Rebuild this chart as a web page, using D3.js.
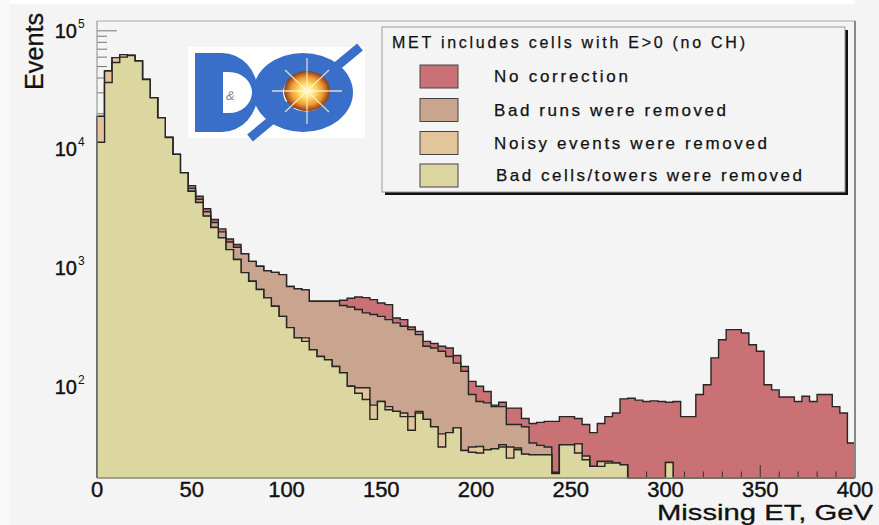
<!DOCTYPE html>
<html><head><meta charset="utf-8">
<script src="https://cdn.jsdelivr.net/npm/d3@7"></script>
<style>html,body{margin:0;padding:0;background:#f4f4f4;} svg{display:block;}</style>
</head><body>
<svg id="chart" width="879" height="525"></svg>
<script>
// ---------- data ----------
const xMin = 0, xMax = 400, binWidth = 4;
const binLowEdges = d3.range(xMin, xMax, binWidth);   // 100 bins of 4 GeV
const xTickLabels = [0, 50, 100, 150, 200, 250, 300, 350, 400];
const yTickExponents = [2, 3, 4, 5];

const seriesNames = [
  "No correction",
  "Bad runs were removed",
  "Noisy events were removed",
  "Bad cells/towers were removed"
];
const legendHeader = "MET includes cells with E>0 (no CH)";

const noCorrection = [
  19000,45800,59400,63000,62000,55600,38900,27300,18500,12600,
  9080,6360,4960,4030,3160,2570,2140,1760,1580,1320,
  1140,1035,950,920,880,700,670,655,525,525,
  525,525,535,556,571,564,542,508,492,380,
  368,319,293,241,231,219,212,183,148,111,
  101,91,70,74,66,66,54,49,50,51,
  51,56,56,54,48,41,49,56,60,79,
  80,77,75,76,75,74,75,56,56,86,
  104,175,249,303,303,284,226,199,104,94,
  82,82,75,83,75,86,86,68,60,33.5
];
const badRunsRemoved = [
  19000,45800,59400,63000,62000,55600,38900,27300,18500,12600,
  9080,6360,4700,3800,2980,2420,2020,1660,1500,1320,
  1140,1035,950,920,880,700,670,655,525,525,
  525,525,483,470,447,419,406,392,368,345,
  323,303,275,219,212,199,180,158,135,86,
  75,73,68,68,48,48,46,33.5,32,31,
  19,32.4,32.4,33,26,21.3,23.4,23.4,22.7,22,
  0,0,0,0,0,0,0,0,0,0,
  0,0,0,0,0,0,0,0,0,0,
  0,0,0,0,0,0,0,0,0,0
];
const noisyRemoved = [
  19000,45800,59400,63000,62000,55600,38900,27300,18500,12600,
  9080,6360,4440,3570,2740,2200,1800,1430,1180,916,
  774,659,561,477,392,315,258,258,205,180,
  169,148,131,101,98,98,70,75,68,62,
  60,56,62,53,46,40,41,45,29,31,
  31.3,29.4,30,32.4,31,30.4,27,26.7,26.7,26.7,
  18.5,32.4,32.4,33,26,21.3,23.4,23.4,22.7,22,
  0,0,0,0,0,23,0,0,0,0,
  0,0,0,0,0,0,0,0,0,0,
  0,0,0,0,0,0,0,0,0,0
];
const badCellsRemoved = [
  11500,36700,54000,60000,62000,55600,38900,27300,18500,12600,
  9080,6360,4440,3570,2740,2200,1800,1430,1180,916,
  774,659,561,477,392,315,258,241,205,180,
  169,148,131,101,88,78,53,75,64,62,
  56,43,60,53,46,31,41,45,29,28,
  27.6,29.4,30,31,25,29.4,27,26.7,26.7,26.7,
  18.5,32.4,32.4,27.6,24.2,21.3,21.3,22.7,22.7,22,
  0,0,0,0,0,23,0,0,0,0,
  0,0,0,0,0,0,0,0,0,0,
  0,0,0,0,0,0,0,0,0,0
];
const seriesColors = ["#c97174", "#c9a48e", "#e2c59a", "#dcd7a0"];

// ---------- layout ----------
const svg = d3.select("#chart");
const plotL = 97, plotR = 855, plotT = 21, plotB = 478;
const x = d3.scaleLinear().domain([xMin, xMax]).range([plotL, plotR]);
const y = d3.scaleLog().domain([17, 121000]).range([plotB, plotT]).clamp(true);
const FONT = "'Liberation Sans', Arial, Helvetica, sans-serif";

// background strips
svg.append("rect").attr("x",0).attr("y",0).attr("width",879).attr("height",525).attr("fill","#f4f4f4");
svg.append("rect").attr("x",0).attr("y",0).attr("width",10).attr("height",525).attr("fill","#f9f9f9");
svg.append("rect").attr("x",10).attr("y",0).attr("width",845).attr("height",4).attr("fill","#ffffff");

function stepPoints(vals) {
  const pts = [[x(xMin), plotB]];
  vals.forEach((v, i) => {
    const yy = v > 0 ? y(v) : plotB;
    pts.push([x(binLowEdges[i]), yy], [x(binLowEdges[i] + binWidth), yy]);
  });
  pts.push([x(xMax), plotB]);
  return pts;
}
const line = d3.line();
function drawHist(vals, color) {
  const pts = stepPoints(vals);
  svg.append("path").attr("d", line(pts) + "Z").attr("fill", color).attr("stroke", "none");
  svg.append("path").attr("d", line(pts)).attr("fill", "none")
    .attr("stroke", "#262626").attr("stroke-width", 1.4).attr("stroke-linejoin", "miter");
}

// red first (with axes), then the others drawn "same"
drawHist(noCorrection, seriesColors[0]);

// axis ticks (drawn after the first histogram)
const tickG = svg.append("g").attr("stroke", "#333").attr("stroke-width", 1);
d3.range(xMin, xMax + 1, 10).forEach(v => {
  const major = v % 50 === 0;
  tickG.append("line").attr("x1", x(v)).attr("x2", x(v))
    .attr("y1", plotB).attr("y2", plotB - (major ? 13 : 6.5));
});
const yMinorVals = [];
[1, 2, 3, 4].forEach(e => { for (let k = 1; k <= 9; k++) yMinorVals.push(k * Math.pow(10, e)); });
yMinorVals.push(100000);
yMinorVals.filter(v => v >= 17 && v <= 121000).forEach(v => {
  const major = Math.abs(Math.log10(v) - Math.round(Math.log10(v))) < 1e-9;
  tickG.append("line").attr("x1", plotL).attr("x2", plotL + (major ? 20 : 10))
    .attr("y1", y(v)).attr("y2", y(v)).attr("stroke", "#777");
});

drawHist(badRunsRemoved, seriesColors[1]);
drawHist(noisyRemoved, seriesColors[2]);
drawHist(badCellsRemoved, seriesColors[3]);

// frame
svg.append("line").attr("x1", plotL).attr("x2", plotR + 1).attr("y1", plotT).attr("y2", plotT).attr("stroke", "#aaa").attr("stroke-width", 1.2);
svg.append("line").attr("x1", plotR).attr("x2", plotR).attr("y1", plotT).attr("y2", plotB).attr("stroke", "#888").attr("stroke-width", 2);
svg.append("line").attr("x1", plotL).attr("x2", plotL).attr("y1", plotT).attr("y2", plotB).attr("stroke", "#999").attr("stroke-width", 1.2);
svg.append("line").attr("x1", plotL).attr("x2", plotR).attr("y1", plotB).attr("y2", plotB).attr("stroke", "#8a8a78").attr("stroke-width", 1.5);

// x tick labels
xTickLabels.forEach(v => {
  svg.append("text").attr("x", x(v)).attr("y", 496.5).attr("text-anchor", "middle")
    .attr("font-family", FONT).attr("font-size", 22).attr("fill", "#111")
    .attr("stroke", "#111").attr("stroke-width", 0.4).text(v);
});
svg.append("text").attr("x", 873).attr("y", 520.3).attr("text-anchor", "end")
  .attr("font-family", FONT).attr("font-size", 21.5).attr("fill", "#111")
  .attr("stroke", "#111").attr("stroke-width", 0.3)
  .attr("textLength", 216).attr("lengthAdjust", "spacingAndGlyphs").text("Missing ET, GeV");

// y tick labels
yTickExponents.forEach(e => {
  const yy = y(Math.pow(10, e));
  svg.append("text").attr("x", 77).attr("y", yy + 7).attr("text-anchor", "end")
    .attr("font-family", FONT).attr("font-size", 20).attr("fill", "#111")
    .attr("stroke", "#111").attr("stroke-width", 0.4).text("10");
  svg.append("text").attr("x", 78).attr("y", yy - 3).attr("text-anchor", "start")
    .attr("font-family", FONT).attr("font-size", 12).attr("fill", "#111").text(e);
});
svg.append("text").attr("transform", "translate(43,51.5) rotate(-90)").attr("text-anchor", "middle")
  .attr("font-family", FONT).attr("font-size", 25).attr("fill", "#111")
  .attr("stroke", "#111").attr("stroke-width", 0.3)
  .attr("textLength", 77).attr("lengthAdjust", "spacingAndGlyphs").text("Events");

// ---------- DØ logo ----------
const logo = svg.append("g");
logo.append("rect").attr("x", 188).attr("y", 47).attr("width", 177).attr("height", 91).attr("fill", "#ffffff");
const blue = "#3a6fc9";
logo.append("path").attr("fill", blue).attr("fill-rule", "evenodd")
  .attr("d", "M195,53 L222,53 A36,39.5 0 0 1 222,132 L195,132 Z M223,72 L229,72 A23,20.5 0 0 1 229,113 L223,113 Z");
logo.append("text").attr("x", 226).attr("y", 100).attr("font-family", FONT).attr("font-size", 13)
  .attr("fill", "#888").attr("font-style", "italic").text("&");
logo.append("path").attr("fill", blue).attr("fill-rule", "evenodd")
  .attr("d", "M253,92.5 A50,39.5 0 1 0 353,92.5 A50,39.5 0 1 0 253,92.5 Z M283,92.5 A23,19 0 1 0 329,92.5 A23,19 0 1 0 283,92.5 Z");
logo.append("line").attr("x1", 250).attr("y1", 138).attr("x2", 360).attr("y2", 47)
  .attr("stroke", blue).attr("stroke-width", 9);
const defs = svg.append("defs");
const grad = defs.append("radialGradient").attr("id", "burst");
grad.append("stop").attr("offset", "0%").attr("stop-color", "#fffde8");
grad.append("stop").attr("offset", "35%").attr("stop-color", "#ffe070");
grad.append("stop").attr("offset", "70%").attr("stop-color", "#f09a30");
grad.append("stop").attr("offset", "100%").attr("stop-color", "#8a3a18");
logo.append("ellipse").attr("cx", 307).attr("cy", 91).attr("rx", 23).attr("ry", 20).attr("fill", "url(#burst)");
const rays = logo.append("g").attr("stroke", "#fff7d0").attr("stroke-opacity", 0.8).attr("stroke-width", 1.3);
[[272, 91, 342, 91], [307, 58, 307, 124], [285, 70, 329, 112], [285, 112, 329, 70]].forEach(r => {
  rays.append("line").attr("x1", r[0]).attr("y1", r[1]).attr("x2", r[2]).attr("y2", r[3]);
});

// ---------- legend ----------
const lg = svg.append("g");
lg.append("rect").attr("x", 385).attr("y", 30).attr("width", 463).attr("height", 165).attr("fill", "#111");
lg.append("rect").attr("x", 382).attr("y", 27).attr("width", 463).attr("height", 165)
  .attr("fill", "#f4f4f4").attr("stroke", "#9a9a9a").attr("stroke-width", 1);
lg.append("text").attr("x", 392).attr("y", 48).attr("font-family", FONT).attr("font-size", 16)
  .attr("fill", "#111").attr("stroke", "#111").attr("stroke-width", 0.25)
  .attr("textLength", 353).attr("lengthAdjust", "spacing").text(legendHeader);
const rowY = [76.5, 110, 143, 175.5];
const labelLen = [134, 232, 273, 306];
seriesNames.forEach((name, i) => {
  lg.append("rect").attr("x", 420).attr("y", rowY[i] - 11.5).attr("width", 38).attr("height", 23)
    .attr("fill", seriesColors[i]).attr("stroke", "#444").attr("stroke-width", 1);
  lg.append("text").attr("x", i === 3 ? 496 : 494).attr("y", rowY[i] + 5.5).attr("font-family", FONT)
    .attr("font-size", 17).attr("fill", "#111").attr("stroke", "#111").attr("stroke-width", 0.25)
    .attr("textLength", labelLen[i]).attr("lengthAdjust", "spacing").text(name);
});
</script>
</body></html>
